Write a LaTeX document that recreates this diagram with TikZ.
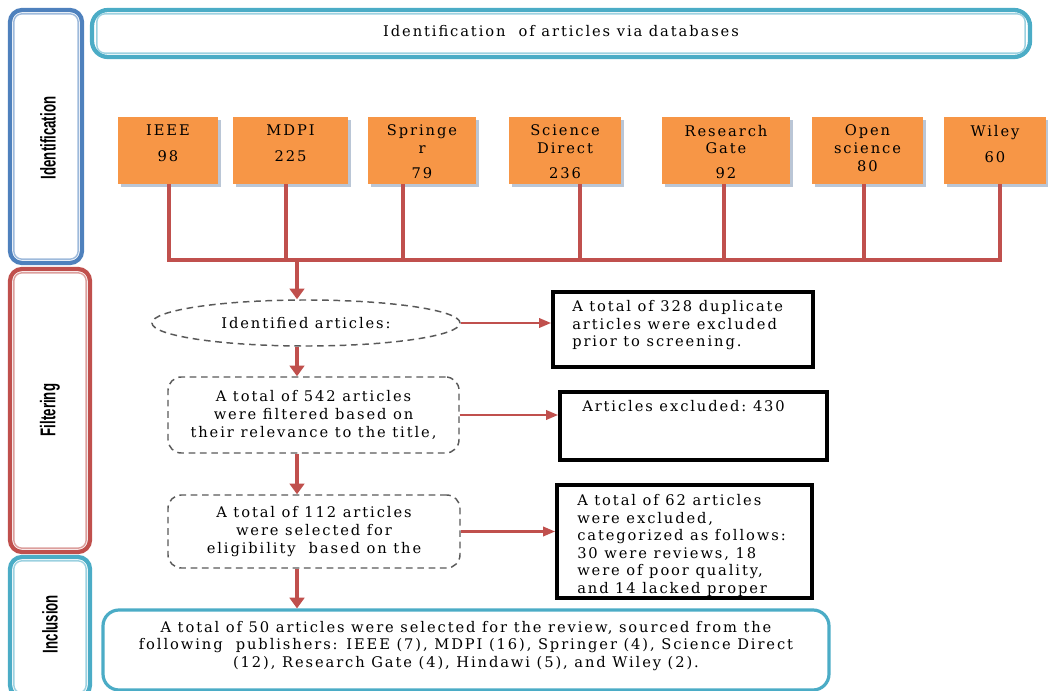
\documentclass[tikz,border=0pt]{standalone}
\usepackage{fontspec}
\setmainfont{DejaVu Serif}[LetterSpace=13]
\newfontfamily\sidefont{Liberation Sans}
\usepackage{graphicx}
\usetikzlibrary{arrows.meta,shapes.geometric,shadows}
\definecolor{orng}{HTML}{F79646}
\definecolor{redl}{HTML}{C0504D}
\definecolor{blu}{HTML}{4F81BD}
\definecolor{cyn}{HTML}{4BACC6}
\definecolor{dgray}{HTML}{595959}
\definecolor{shd}{HTML}{A9B8CC}
\begin{document}
\begin{tikzpicture}[x=0.75pt,y=-0.75pt,
 sz/.style 2 args={minimum width=#1*0.75pt,minimum height=#2*0.75pt,inner sep=0pt},
 txt/.style={font=\fontsize{11pt}{13.2pt}\selectfont, inner sep=0pt},
 obox/.style={rectangle, fill=orng, drop shadow={shadow xshift=2pt, shadow yshift=-2pt, fill=shd, opacity=0.8}},
 otext/.style={txt, align=center, anchor=north},
 bus/.style={draw=redl, line width=3pt, line join=miter},
 varrow/.style={draw=redl, line width=3pt, -{Triangle[length=8pt,width=11pt]}},
 harrow/.style={draw=redl, line width=1.8pt, -{Triangle[length=9pt,width=7pt]}},
 dashnode/.style={draw=dgray, line width=1.1pt, dash pattern=on 5pt off 3.5pt},
 exbox/.style={draw=black, line width=2.8pt, rectangle},
 sideout/.style={rectangle, rounded corners=9pt, line width=3.2pt},
 sidein/.style={rounded corners=6pt, line width=1.1pt},
 sidelabel/.style={font=\sidefont\bfseries\fontsize{16pt}{16pt}\selectfont, rotate=90, inner sep=0pt}
]
\useasboundingbox (0,0) rectangle (1048,691);

% sidebars
\node[sideout, draw=blu, sz={72}{253}] (sidA) at (46,136.5) {};
\draw[sidein, draw=blu!55] ([shift={(6,6)}]sidA.north west) rectangle ([shift={(-6,-6)}]sidA.south east);
\node[sidelabel] (labA) at (48,138) {\scalebox{0.62}[1]{Identification}};

\node[sideout, draw=redl, sz={80}{283}] (sidF) at (50,410.5) {};
\draw[sidein, draw=redl!55] ([shift={(6,6)}]sidF.north west) rectangle ([shift={(-6,-6)}]sidF.south east);
\node[sidelabel] (labF) at (50,410) {\scalebox{0.62}[1]{Filtering}};

\node[sideout, draw=cyn, sz={80}{140}] (sidI) at (50,627) {};
\draw[sidein, draw=cyn!55] ([shift={(6,6)}]sidI.north west) rectangle ([shift={(-6,-6)}]sidI.south east);
\node[sidelabel] (labI) at (50,624) {\scalebox{0.62}[1]{Inclusion}};

% header
\node[sideout, draw=cyn, rounded corners=12pt, sz={938}{47}] (head) at (561,33.5) {};
\draw[sidein, draw=cyn!55] ([shift={(7,6)}]head.north west) rectangle ([shift={(-7,-6)}]head.south east);
\node[txt] (headt) at (561,31) {Identification\ \ of articles via databases};

% databases
\node[obox, sz={100}{67}] (ieee) at (168,150.5) {};
\node[otext] (ieeet) at ([yshift=-6pt]ieee.north) {IEEE\\[6.5pt]98};
\node[obox, sz={115}{67}] (mdpi) at (290.5,150.5) {};
\node[otext] (mdpit) at ([yshift=-6pt]mdpi.north) {MDPI\\[6.5pt]225};
\node[obox, sz={108}{67}] (spr) at (422,150.5) {};
\node[otext] (sprt) at ([yshift=-6pt]spr.north) {Springe\\r\\[5.5pt]79};
\node[obox, sz={112}{67}] (sd) at (565,150.5) {};
\node[otext] (sdt) at ([yshift=-6pt]sd.north) {Science\\Direct\\[5.5pt]236};
\node[obox, sz={128}{67}] (rg) at (726,150.5) {};
\node[otext] (rgt) at ([yshift=-6pt]rg.north) {Research\\Gate\\[5.5pt]92};
\node[obox, sz={111}{67}] (os) at (867.5,150.5) {};
\node[otext] (ost) at ([yshift=-6pt]os.north) {Open\\science\\80};
\node[obox, sz={102}{67}] (wil) at (995,150.5) {};
\node[otext] (wilt) at ([yshift=-6pt]wil.north) {Wiley\\[6.5pt]60};

% bus
\coordinate (b1) at (169,260);
\coordinate (b2) at (286,260);
\coordinate (b3) at (403,260);
\coordinate (b4) at (580,260);
\coordinate (b5) at (724,260);
\coordinate (b6) at (864,260);
\coordinate (b7) at (1000,260);
\coordinate (ax) at (297,260);
\draw[bus] (ieee.south -| b1) -- (b1) -- (b7) -- (wil.south -| b7);
\draw[bus] (mdpi.south -| b2) -- (b2);
\draw[bus] (spr.south -| b3) -- (b3);
\draw[bus] (sd.south -| b4) -- (b4);
\draw[bus] (rg.south -| b5) -- (b5);
\draw[bus] (os.south -| b6) -- (b6);

% flow
\node[ellipse, dashnode, sz={308}{46}, txt] (idn) at (306,323) {Identified articles:};
\node[dashnode, rounded corners=10pt, sz={291}{76}, txt, align=center] (flt) at (313.5,415) {A total of 542 articles\\were filtered based on\\their relevance to the title,};
\node[dashnode, rounded corners=10pt, sz={292}{73}, txt, align=center] (sel) at (314,531.5) {A total of 112 articles\\were selected for\\eligibility\ \ based on the};
\node[draw=cyn, line width=2.4pt, rounded corners=12pt, sz={726}{80}] (fin) at (466,650) {};
\node[txt, align=center] (fint) at (466,646) {A total of 50 articles were selected for the review, sourced from the\\following\ \ publishers: IEEE (7), MDPI (16), Springer (4), Science Direct\\(12), Research Gate (4), Hindawi (5), and Wiley (2).};

\node[exbox, sz={260}{75}] (ex1) at (683,329.5) {};
\node[txt, anchor=north west, align=left] (ex1t) at (572,300) {A total of 328 duplicate\\articles were excluded\\prior to screening.};
\node[exbox, sz={267}{68}] (ex2) at (693.5,426) {};
\node[txt, anchor=north west, align=left] (ex2t) at (582,400) {Articles excluded:\ 430};
\node[exbox, sz={255}{113}] (ex3) at (684.5,541.5) {};
\node[txt, anchor=north west, align=left] (ex3t) at (577,494) {A total of 62 articles\\were excluded,\\categorized as follows:\\30 were reviews, 18\\were of poor quality,\\and 14 lacked proper};

\draw[varrow] (ax) -- (idn.north -| ax);
\draw[varrow] (idn.south -| ax) -- (flt.north -| ax);
\draw[varrow] (flt.south -| ax) -- (sel.north -| ax);
\draw[varrow] (sel.south -| ax) -- (fin.north -| ax);
\draw[harrow] (idn.east) -- (idn.east -| ex1.west);
\draw[harrow] (flt.east) -- (flt.east -| ex2.west);
\draw[harrow] (sel.east) -- (sel.east -| ex3.west);
\end{tikzpicture}
\end{document}
